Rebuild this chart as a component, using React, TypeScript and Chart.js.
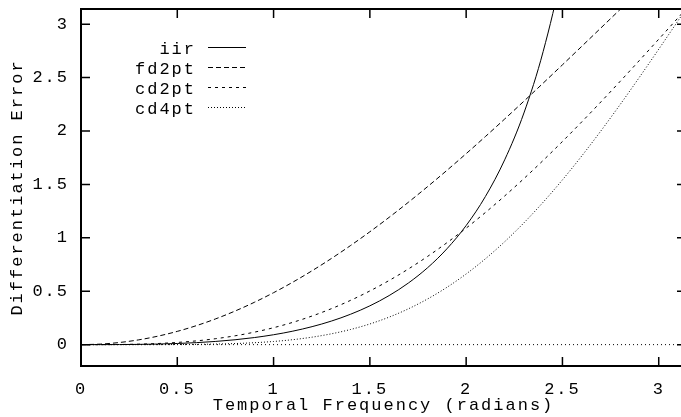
import React, { useEffect, useRef } from "react";
import { Chart, registerables } from "chart.js";

Chart.register(...registerables);

// ---- data ----
const xValues = [
  0, 0.1, 0.2, 0.3, 0.4, 0.5, 0.6, 0.7, 0.8, 0.9, 1.0, 1.1, 1.2, 1.3, 1.4, 1.5,
  1.6, 1.7, 1.8, 1.9, 2.0, 2.1, 2.2, 2.3, 2.4, 2.5, 2.6, 2.7, 2.8, 2.9, 3.0, 3.1, 3.14159,
];
const iirError = [
  0, 0.0001, 0.0007, 0.0023, 0.0054, 0.0107, 0.0187, 0.0301, 0.0456, 0.0661, 0.0926,
  0.1262, 0.1683, 0.2204, 0.2846, 0.3632, 0.4593, 0.5767, 0.7203, 0.8968, 1.1148,
  1.3866, 1.7295, 2.1683, 2.7443, 3.5191, 4.6042,
];
const fd2ptError = [
  0, 0.005, 0.02, 0.0449, 0.0796, 0.1241, 0.1782, 0.2417, 0.3144, 0.396, 0.4863,
  0.5849, 0.6917, 0.8061, 0.9278, 1.0564, 1.1915, 1.3327, 1.4794, 1.6311, 1.7875,
  1.9479, 2.1118, 2.2787, 2.448, 2.6191, 2.7916, 2.9648, 3.1382, 3.3112, 3.4833,
  3.6538, 3.7242,
];
const cd2ptError = [
  0, 0.0002, 0.0013, 0.0045, 0.0106, 0.0206, 0.0354, 0.0558, 0.0826, 0.1167, 0.1585,
  0.2088, 0.268, 0.3364, 0.4146, 0.5025, 0.6004, 0.7083, 0.8262, 0.9537, 1.0907,
  1.2368, 1.3915, 1.5543, 1.7245, 1.9015, 2.0845, 2.2726, 2.465, 2.6608, 2.8589,
  3.0584, 3.1416,
];
const cd4ptError = [
  0, 0.0, 0.0, 0.0001, 0.0003, 0.001, 0.0025, 0.0053, 0.0101, 0.0179, 0.0296,
  0.0465, 0.0699, 0.1012, 0.1419, 0.1935, 0.2575, 0.3352, 0.4278, 0.5363, 0.6615,
  0.8038, 0.9634, 1.1401, 1.3334, 1.5422, 1.7654, 2.0014, 2.2481, 2.5036, 2.7653,
  3.0307, 3.1416,
];
const zeroLineX = [0, 3.14159];
const zeroLineY = [0, 0];
const xTickValues = [0, 0.5, 1, 1.5, 2, 2.5, 3];
const yTickValues = [0, 0.5, 1, 1.5, 2, 2.5, 3];
const seriesLabels = ["iir", "fd2pt", "cd2pt", "cd4pt"];
const xTitle = "Temporal Frequency (radians)";
const yTitle = "Differentiation Error";
const xMin = 0;
const xMax = 3.14159;
const yMin = -0.2;
const yMax = 3.14159;

const FONT = "'Liberation Mono', 'DejaVu Sans Mono', monospace";
const FONT_SIZE = 17;

function toPoints(xs: number[], ys: number[]) {
  return ys.map((y, i) => ({ x: xs[i], y }));
}

const gnuplotPlugin = {
  id: "gnuplotFrame",
  beforeDraw(chart: any) {
    (chart.ctx as any).letterSpacing = "2px";
  },
  afterDraw(chart: any) {
    const { ctx, chartArea: a, scales } = chart;
    const xs = scales.x;
    const ys = scales.y;
    ctx.save();
    ctx.strokeStyle = "#000";
    ctx.setLineDash([]);
    // inward ticks on all four sides
    const T = 9;
    ctx.lineWidth = 1.5;
    ctx.beginPath();
    for (const t of xs.ticks) {
      const px = xs.getPixelForValue(t.value);
      ctx.moveTo(px, a.bottom);
      ctx.lineTo(px, a.bottom - T);
      ctx.moveTo(px, a.top);
      ctx.lineTo(px, a.top + T);
    }
    for (const t of ys.ticks) {
      const py = ys.getPixelForValue(t.value);
      ctx.moveTo(a.left, py);
      ctx.lineTo(a.left + T, py);
      ctx.moveTo(a.right, py);
      ctx.lineTo(a.right - T, py);
    }
    ctx.stroke();
    // frame
    ctx.lineWidth = 2;
    ctx.strokeRect(a.left, a.top, a.right - a.left, a.bottom - a.top);

    // legend (gnuplot style, top-left inside)
    const legendRight = 196;
    const lineX0 = 208;
    const lineX1 = 246;
    const rowY0 = 46.9;
    const rowGap = 20.1;
    (ctx as any).letterSpacing = "2px";
    ctx.font = `${FONT_SIZE}px ${FONT}`;
    ctx.textAlign = "right";
    ctx.textBaseline = "middle";
    ctx.fillStyle = "#000";
    const shown = chart.data.datasets.filter((d: any) => d.label);
    shown.forEach((ds: any, i: number) => {
      const yy = rowY0 + i * rowGap;
      ctx.fillText(ds.label, legendRight, yy + 2.5);
      ctx.lineWidth = 1;
      ctx.setLineDash(ds.borderDash || []);
      ctx.beginPath();
      ctx.moveTo(lineX0, Math.round(yy) + 0.5);
      ctx.lineTo(lineX1, Math.round(yy) + 0.5);
      ctx.stroke();
    });
    ctx.restore();
  },
};

export default function App() {
  const canvasRef = useRef<HTMLCanvasElement | null>(null);

  useEffect(() => {
    const canvas = canvasRef.current;
    if (!canvas) return;
    Chart.defaults.font.family = FONT;
    Chart.defaults.font.size = FONT_SIZE;
    Chart.defaults.color = "#000";

    const lineBase = {
      borderColor: "#000",
      borderWidth: 1,
      pointRadius: 0,
      fill: false,
      cubicInterpolationMode: "monotone" as const,
    };

    const chart = new Chart(canvas, {
      type: "line",
      data: {
        datasets: [
          { ...lineBase, label: seriesLabels[0], data: toPoints(xValues, iirError), borderDash: [] },
          { ...lineBase, label: seriesLabels[1], data: toPoints(xValues, fd2ptError), borderDash: [5, 3] },
          { ...lineBase, label: seriesLabels[2], data: toPoints(xValues, cd2ptError), borderDash: [3, 4] },
          { ...lineBase, label: seriesLabels[3], data: toPoints(xValues, cd4ptError), borderDash: [1, 2] },
          { ...lineBase, label: "", data: toPoints(zeroLineX, zeroLineY), borderDash: [1, 3] },
        ],
      },
      options: {
        animation: false,
        responsive: false,
        devicePixelRatio: 1,
        layout: { padding: { top: 9, right: 14, left: 0, bottom: 0 } },
        plugins: {
          legend: { display: false },
          tooltip: { enabled: false },
        },
        scales: {
          x: {
            type: "linear",
            min: xMin,
            max: xMax,
            grid: { display: false, drawTicks: false },
            border: { display: false },
            afterBuildTicks: (scale: any) => {
              scale.ticks = xTickValues.map((v) => ({ value: v }));
            },
            afterFit: (scale: any) => {
              scale.height = 51;
              scale.paddingLeft = 0;
              scale.paddingRight = 0;
            },
            ticks: {
              padding: 13,
              maxRotation: 0,
              autoSkip: false,
              callback: (v: any) => String(v),
            },
            title: {
              display: true,
              text: xTitle,
              padding: { top: 0, bottom: 1 },
            },
          },
          y: {
            type: "linear",
            min: yMin,
            max: yMax,
            grid: { display: false, drawTicks: false },
            border: { display: false },
            afterBuildTicks: (scale: any) => {
              scale.ticks = yTickValues.map((v) => ({ value: v }));
            },
            afterFit: (scale: any) => {
              scale.width = 81;
              scale.paddingTop = 0;
              scale.paddingBottom = 0;
            },
            ticks: {
              padding: 12,
              autoSkip: false,
              callback: (v: any) => String(v),
            },
            title: {
              display: true,
              text: yTitle,
              padding: { top: 7, bottom: 0 },
            },
          },
        },
      },
      plugins: [gnuplotPlugin],
    } as any);

    return () => {
      chart.destroy();
    };
  }, []);

  return (
    <div
      style={{
        position: "fixed",
        left: 0,
        top: 0,
        width: 681,
        height: 417,
        overflow: "hidden",
        background: "#fff",
      }}
    >
      <canvas ref={canvasRef} width={700} height={417} style={{ width: 700, height: 417, display: "block" }} />
    </div>
  );
}
